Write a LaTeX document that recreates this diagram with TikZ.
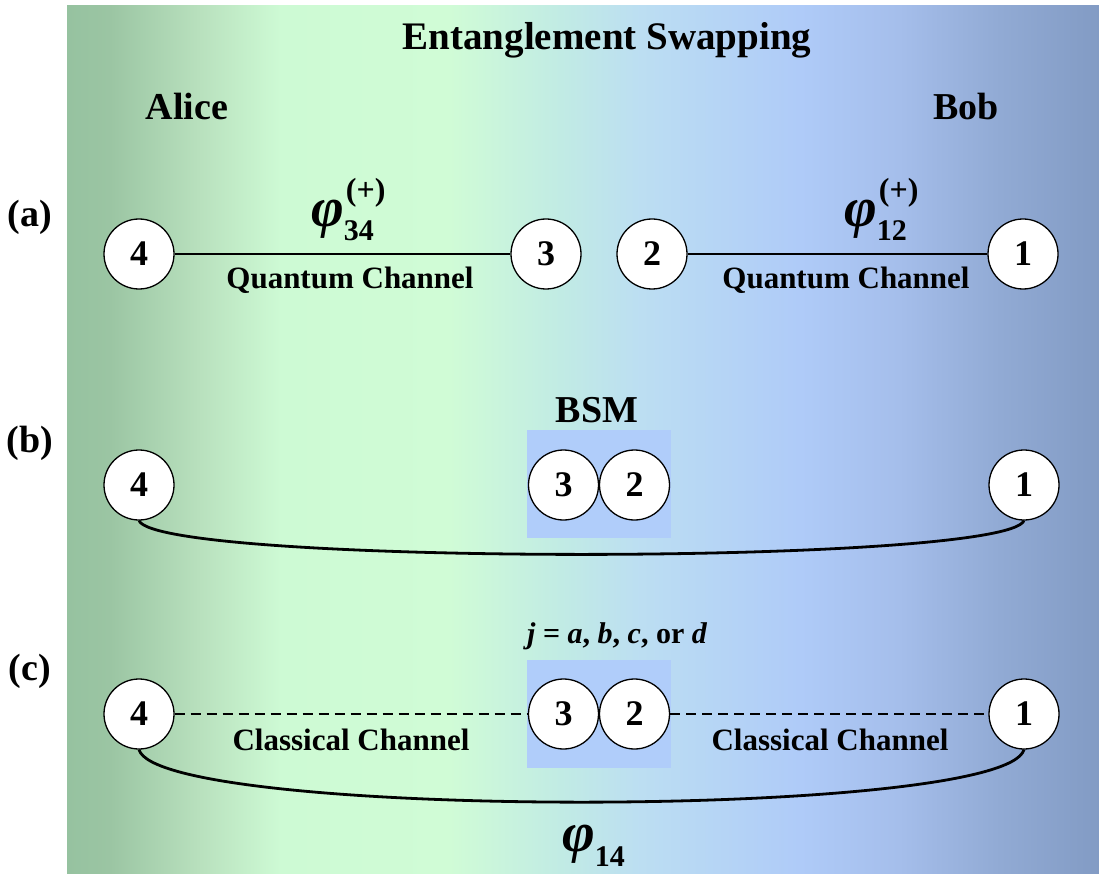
\documentclass[tikz,border=0pt]{standalone}
\usepackage{fontspec}
\setmainfont{Liberation Serif}

\definecolor{bsmblue}{RGB}{176,205,250}

% horizontal backdrop: green on the left fading through cyan to blue-grey
\pgfdeclarehorizontalshading{stagebg}{100bp}{
  rgb(0bp)=(0.588,0.761,0.627);
  rgb(25bp)=(0.588,0.761,0.627);
  rgb(27.1bp)=(0.608,0.773,0.639);
  rgb(31.5bp)=(0.725,0.882,0.745);
  rgb(35.3bp)=(0.804,0.980,0.831);
  rgb(43.5bp)=(0.816,0.988,0.839);
  rgb(48.9bp)=(0.757,0.922,0.894);
  rgb(52.8bp)=(0.737,0.871,0.949);
  rgb(60.5bp)=(0.686,0.796,0.973);
  rgb(65.3bp)=(0.647,0.745,0.922);
  rgb(70.2bp)=(0.569,0.667,0.831);
  rgb(75bp)=(0.510,0.608,0.769);
  rgb(100bp)=(0.510,0.608,0.769)}

% state label: phi with subscript and superscript
\newcommand\philabel[4]{%
  {\fontsize{56}{56}\selectfont\bfseries\itshape φ}%
  \rlap{\raisebox{-#3}{\fontsize{30}{30}\selectfont\bfseries #1}}%
  \raisebox{#4}{\kern2pt\fontsize{32}{32}\selectfont\bfseries #2}}

\tikzset{
  qubit/.style={circle, draw=black, line width=1.3pt, fill=white,
    minimum size=70pt, inner sep=0pt,
    font=\fontsize{36}{36}\selectfont\bfseries},
  link/.style={line width=2.4pt},
  cchan/.style={line width=2.6pt, dash pattern=on 10pt off 6pt},
  bond/.style={line width=2.8pt},
  head/.style={font=\fontsize{38}{40}\selectfont\bfseries, anchor=base, inner sep=0pt},
  chan/.style={font=\fontsize{31}{33}\selectfont\bfseries, anchor=base, inner sep=0pt},
  statelab/.style={anchor=base west, inner sep=0pt},
  bsmbox/.style={fill=bsmblue, draw=none, minimum width=144pt,
    minimum height=108pt, inner sep=0pt},
}

\begin{document}
\begin{tikzpicture}[x=1pt, y=-1pt]
\useasboundingbox (0,0) rectangle (1099,874);
\fill[white] (0,0) rectangle (1099,874);
\fill[shading=stagebg] (67,6) rectangle (1099,874);

% headings
\node[head, font=\fontsize{39}{40}\selectfont\bfseries] (title) at (607,50) {Entanglement Swapping};
\node[head] (alice) at (187,120) {Alice};
\node[head] (bob) at (966,120) {Bob};
\node[head] (rowa) at (30,227) {(a)};
\node[head] (rowb) at (30,452) {(b)};
\node[head] (rowc) at (30,680) {(c)};

% (a) two entangled pairs
\node[qubit] (a4) at (139,254) {4};
\node[qubit] (a3) at (546,254) {3};
\node[qubit] (a2) at (652,254) {2};
\node[qubit] (a1) at (1023,254) {1};
\draw[link] (a4) -- (a3);
\draw[link] (a2) -- (a1);
\node[statelab] (phia) at (311,227) {\philabel{34}{(+)}{14pt}{26pt}};
\node[statelab] (phib) at (844,227) {\philabel{12}{(+)}{14pt}{26pt}};
\node[chan] (qca) at (350,289) {Quantum Channel};
\node[chan] (qcb) at (846,289) {Quantum Channel};

% (b) Bell-state measurement on 3 and 2
\node[bsmbox] (bsmb) at (599,484) {};
\node[head] (bsm) at (597,422) {BSM};
\node[qubit] (b4) at (139,485) {4};
\node[qubit] (b3) at (563.5,485) {3};
\node[qubit] (b2) at (634.5,485) {2};
\node[qubit] (b1) at (1024,485) {1};
\draw[bond] (b4.south) .. controls +(20,45) and +(-20,45) .. (b1.south);

% (c) classical result sent to both ends
\node[bsmbox] (bsmc) at (599,714) {};
\node[anchor=base west, inner sep=0pt, font=\fontsize{30}{30}\selectfont\bfseries] (jres) at (527,643)
  {\itshape j\/ \upshape= \itshape a\upshape, \itshape b\upshape, \itshape c\upshape, or \itshape d};
\node[qubit] (c4) at (139,714) {4};
\node[qubit] (c3) at (563.5,714) {3};
\node[qubit] (c2) at (634.5,714) {2};
\node[qubit] (c1) at (1024,714) {1};
\draw[cchan] (c4) -- (c3);
\draw[cchan] (c2) -- (c1);
\node[chan] (cca) at (351,750) {Classical Channel};
\node[chan] (ccb) at (830,750) {Classical Channel};
\draw[bond] (c4.south) .. controls +(20,70) and +(-20,70) .. (c1.south);
\node[statelab] (phic) at (562,851) {\philabel{14}{}{15pt}{0pt}};
\end{tikzpicture}
\end{document}
